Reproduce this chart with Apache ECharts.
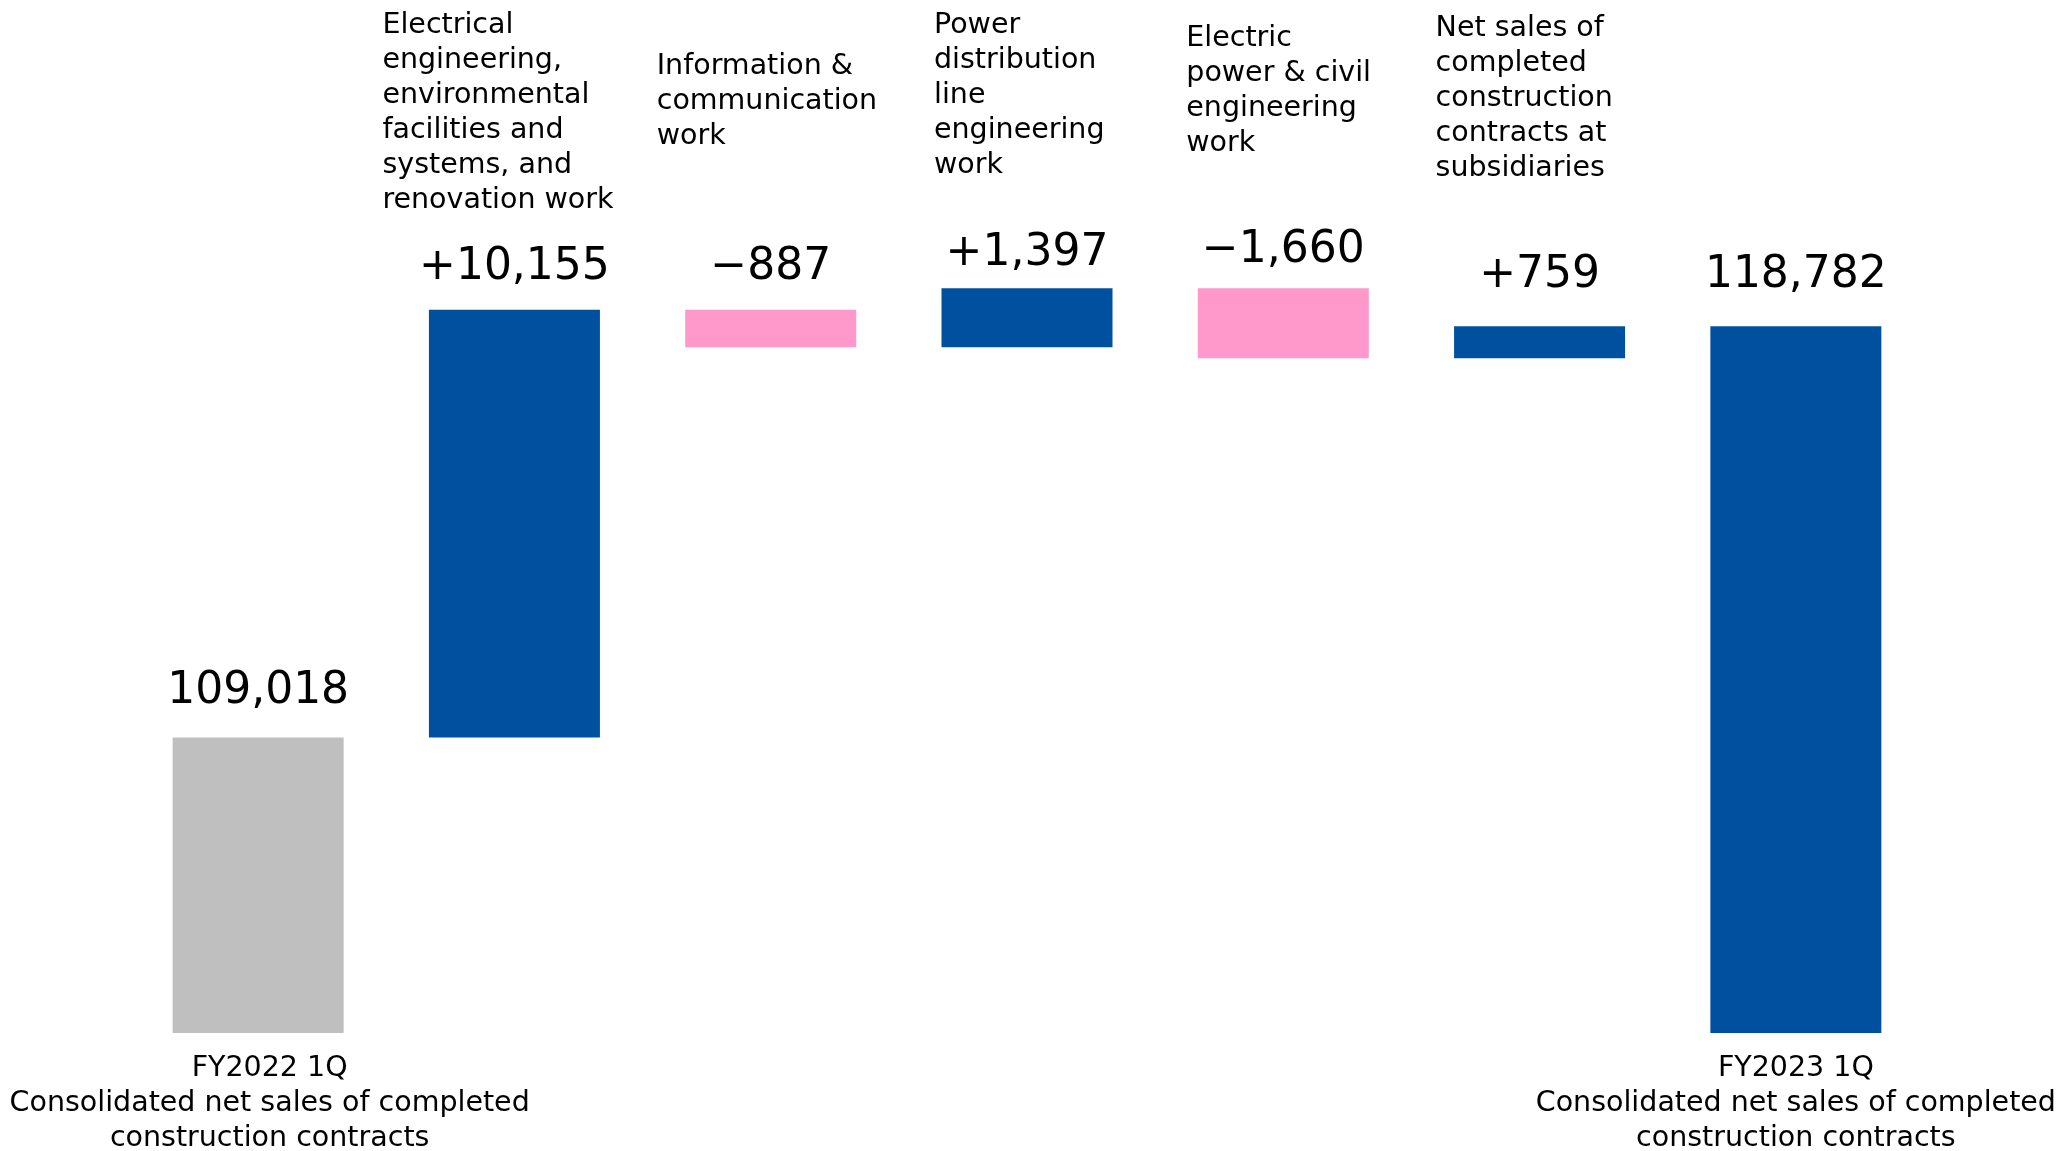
<!DOCTYPE html>
<html>
<head>
<meta charset="utf-8">
<script src="https://cdn.jsdelivr.net/npm/echarts@6/dist/echarts.min.js"></script>
<style>
  html, body { margin: 0; padding: 0; background: #fff; }
  #main { width: 2072px; height: 1151px; }
</style>
</head>
<body>
<div id="main"></div>
<script>
// categories (start, 5 segments, end)
var categories = ['FY2022 1Q', 'Electrical', 'Information', 'Power distribution', 'Electric power', 'Subsidiaries', 'FY2023 1Q'];

// bottom labels only for the two totals
var bottomLabels = [
    'FY2022 1Q\nConsolidated net sales of completed\nconstruction contracts',
    '', '', '', '', '',
    'FY2023 1Q\nConsolidated net sales of completed\nconstruction contracts'
];

// labels written above the change bars
var topLabels = [
    'Electrical\nengineering,\nenvironmental\nfacilities and\nsystems, and\nrenovation work',
    'Information &\ncommunication\nwork',
    'Power\ndistribution\nline\nengineering\nwork',
    'Electric\npower & civil\nengineering\nwork',
    'Net sales of\ncompleted\nconstruction\ncontracts at\nsubsidiaries'
];

var startTotal = 109018;
var deltas = [10155, -887, 1397, -1660, 759];
var endTotal = 118782;

var BLUE = '#0050A0', PINK = '#FF99CC', GRAY = '#BFBFBF';
var FONT = 'DejaVu Sans';

// build waterfall (transparent base + visible part)
var baseData = [0];
var barData = [{value: startTotal, itemStyle: {color: GRAY}}];
var running = startTotal;
deltas.forEach(function (d) {
    var next = running + d;
    baseData.push(Math.min(running, next));
    barData.push({value: Math.abs(d), itemStyle: {color: d >= 0 ? BLUE : PINK}});
    running = next;
});
baseData.push(0);
barData.push({value: endTotal, itemStyle: {color: BLUE}});

// label gap above each bar
var labelGaps = [24, 20, 20, 13, 16, 29, 29];
barData.forEach(function (item, i) {
    item.label = {distance: labelGaps[i]};
});

function fmt(n) {
    return n.toLocaleString('en-US');
}

// first bottom label sits a bit right of its bar
var xData = categories.map(function (c, i) {
    return i === 0 ? {value: c, textStyle: {padding: [0, 0, 0, 23]}} : c;
});

var chart = echarts.init(document.getElementById('main'));

var option = {
    animation: false,
    grid: {left: 130, right: 148, top: 275, bottom: 118, outerBoundsMode: 'none', containLabel: false},
    xAxis: {
        type: 'category',
        data: xData,
        axisLine: {show: false},
        axisTick: {show: false},
        axisLabel: {
            interval: 0,
            margin: 18,
            fontFamily: FONT,
            fontSize: 28.5,
            lineHeight: 35,
            color: '#000',
            formatter: function (v, i) { return bottomLabels[i]; }
        }
    },
    yAxis: {
        type: 'value',
        min: 102000,
        max: 120000,
        show: false,
        splitLine: {show: false}
    },
    series: [
        {
            type: 'bar',
            stack: 'w',
            barWidth: 171,
            itemStyle: {color: 'transparent'},
            emphasis: {disabled: true},
            data: baseData
        },
        {
            type: 'bar',
            stack: 'w',
            barWidth: 171,
            label: {
                show: true,
                position: 'top',
                fontFamily: FONT,
                fontSize: 44,
                color: '#000',
                formatter: function (p) {
                    if (p.dataIndex === 0 || p.dataIndex === categories.length - 1) {
                        return fmt(p.value);
                    }
                    var d = deltas[p.dataIndex - 1];
                    return (d >= 0 ? '+' : '\u2212') + fmt(Math.abs(d));
                }
            },
            data: barData
        }
    ]
};
chart.setOption(option);

// top descriptive labels, placed relative to each category
var labelDx = [-132, -114, -93, -97, -104];
var labelTop = [8, 49, 8, 21, 11];
var graphics = topLabels.map(function (t, k) {
    var cx = chart.convertToPixel({xAxisIndex: 0}, k + 1);
    return {
        type: 'text',
        left: cx + labelDx[k],
        top: labelTop[k],
        style: {
            text: t,
            fontFamily: FONT,
            fontSize: 28.5,
            lineHeight: 35,
            fill: '#000'
        }
    };
});
chart.setOption({graphic: graphics});
</script>
</body>
</html>
